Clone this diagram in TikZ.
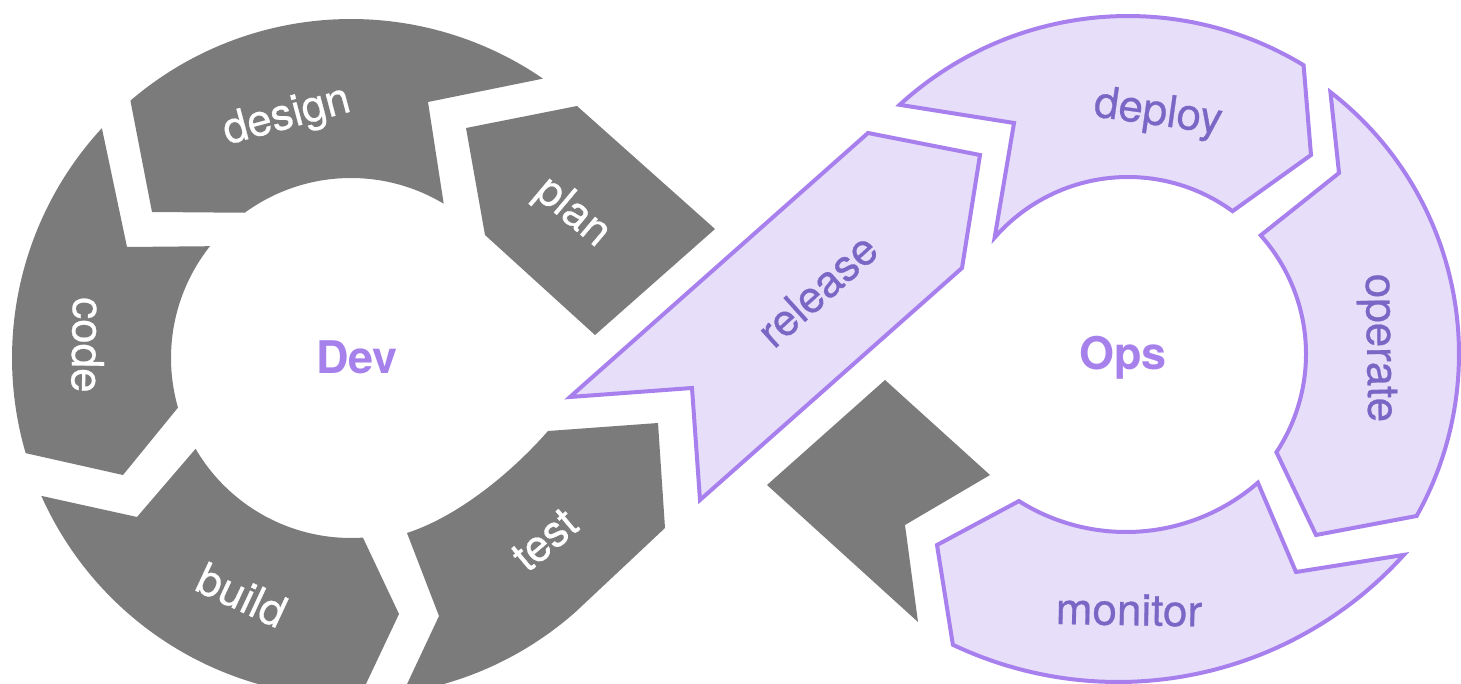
\documentclass[tikz,border=0pt]{standalone}
\usepackage{fontspec}
\setmainfont{TeX Gyre Heros}
\newfontfamily\labelfont[FakeBold=0.6]{TeX Gyre Heros}
\definecolor{grayband}{HTML}{7B7B7B}
\definecolor{pfill}{HTML}{E7DEF9}
\definecolor{pline}{HTML}{A880EE}
\definecolor{ptext}{HTML}{7A67C5}
\definecolor{ctext}{HTML}{A681EC}
\begin{document}
\begin{tikzpicture}[x=1pt,y=-1pt,samples=60,
  graypart/.style={fill=grayband},
  purplepart/.style={fill=pfill,draw=pline,line width=4pt,line join=miter},
  glabel/.style={text=white,inner sep=0pt,font={\labelfont\fontsize{44}{52}\selectfont}},
  plabel/.style={text=ptext,inner sep=0pt,font={\labelfont\fontsize{44}{52}\selectfont}},
  hub/.style={text=ctext,inner sep=0pt,font={\bfseries\fontsize{45}{54}\selectfont}}]
\useasboundingbox (0,0) rectangle (1461,684);
\clip (0,0) rectangle (1461,684);

% ---------- Dev loop (gray) ----------
% design
\fill[graypart] plot[domain=-130.6:-55.5] ({351+339*cos(\x)},{358+339*sin(\x)})
  -- (428,102)
  -- plot[domain=-59:-126.2] ({351+180*cos(\x)},{358+180*sin(\x)})
  -- (152,212) -- cycle;
% code
\fill[graypart] plot[domain=-137.3:-196.3] ({351+339*cos(\x)},{358+339*sin(\x)})
  -- (123,475)
  -- plot[domain=-196:-141.6] ({351+180*cos(\x)},{358+180*sin(\x)})
  -- (127,247) -- cycle;
% build
\fill[graypart] (137,517)
  -- plot[domain=149.7:86.2] ({351+180*cos(\x)},{358+180*sin(\x)})
  -- (399,614)
  -- plot[domain=88.5:156] ({351+339*cos(\x)},{358+339*sin(\x)})
  -- cycle;
% test
\fill[graypart] (439,616) -- (407,533)
  .. controls (459,516) and (512,472) .. (548,431)
  -- (658,423) -- (665,528)
  -- plot[domain=48.5:81.2] ({351+339*cos(\x)},{358+339*sin(\x)})
  -- cycle;
% plan
\fill[graypart] (466,128) -- (577,106) -- (715,229) -- (595,335) -- (485,235) -- cycle;
% gray tail under the crossing
\fill[graypart] (767,485) -- (885,380) -- (990,475) -- (905,525) -- (918,622) -- cycle;

% ---------- release (crossing) ----------
\filldraw[purplepart] (570,397) -- (868,133) -- (980,155) -- (962,268) -- (700,500) -- (692,388) -- cycle;

% ---------- Ops loop (purple) ----------
% deploy
\filldraw[purplepart] plot[domain=-132.5:-58.7] ({1128+338*cos(\x)},{354+338*sin(\x)})
  -- (1311,155)
  -- plot[domain=-53.8:-138.9] ({1128+177*cos(\x)},{354+177*sin(\x)})
  -- (1014,123) -- cycle;
% operate
\filldraw[purplepart] plot[domain=-52.3:29.3] ({1128+331*cos(\x)},{354+331*sin(\x)})
  -- (1316,535)
  -- plot[domain=33.5:-41.8] ({1128+178*cos(\x)},{354+178*sin(\x)})
  -- (1339,173) -- cycle;
% monitor
\filldraw[purplepart] (1296,572)
  -- plot[domain=42.06:115.4] ({1118+385*cos(\x)},{297+385*sin(\x)})
  -- (937,545)
  -- plot[domain=122.2:49.0] ({1126+201*cos(\x)},{331+201*sin(\x)})
  -- cycle;

% ---------- labels ----------
\node[glabel, rotate=15] (design) at (287,117) {design};
\node[glabel, rotate=-40] (plan) at (572,213) {plan};
\node[glabel, rotate=-91] (code) at (88,345) {code};
\node[glabel, rotate=-25] (build) at (242,595) {build};
\node[glabel, rotate=40] (test) at (545,540) {test};
\node[plabel, rotate=42] (release) at (817,290) {release};
\node[plabel, rotate=-8] (deploy) at (1158,114) {deploy};
\node[plabel, rotate=-89] (operate) at (1377,348) {operate};
\node[plabel, rotate=-1] (monitor) at (1129,610) {monitor};
\node[hub] (dev) at (357,357) {Dev};
\node[hub] (ops) at (1123,358) {Ops};
\end{tikzpicture}
\end{document}
